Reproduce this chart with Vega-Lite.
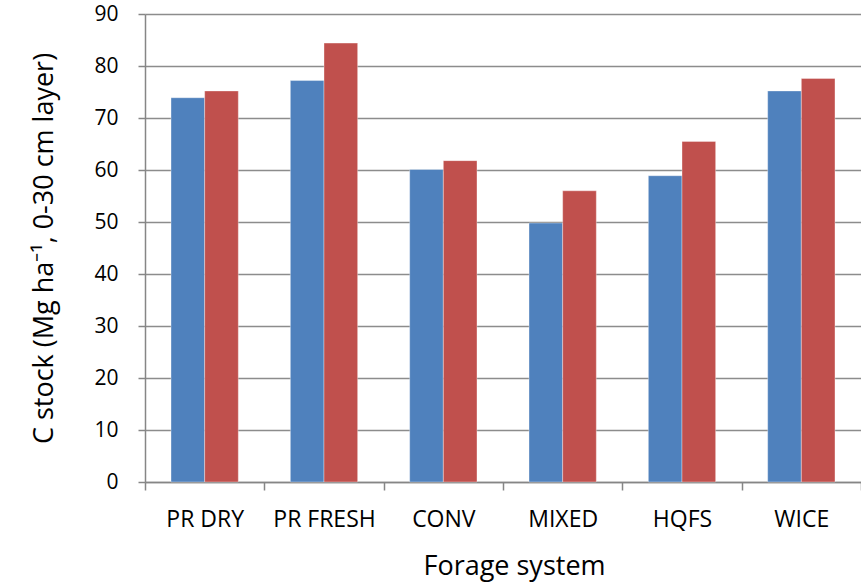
{
  "$schema": "https://vega.github.io/schema/vega-lite/v6.json",
  "width": 716,
  "height": 468,
  "autosize": {"type": "none"},
  "padding": {"left": 145, "top": 14, "right": 0, "bottom": 101},
  "background": "white",
  "config": {
    "view": {"stroke": null},
    "font": "Open Sans"
  },
  "data": {
    "values": [
      {"system": "PR DRY", "series": "A", "value": 73.9},
      {"system": "PR DRY", "series": "B", "value": 75.2},
      {"system": "PR FRESH", "series": "A", "value": 77.2},
      {"system": "PR FRESH", "series": "B", "value": 84.4},
      {"system": "CONV", "series": "A", "value": 60.1},
      {"system": "CONV", "series": "B", "value": 61.8},
      {"system": "MIXED", "series": "A", "value": 49.8},
      {"system": "MIXED", "series": "B", "value": 56.0},
      {"system": "HQFS", "series": "A", "value": 58.9},
      {"system": "HQFS", "series": "B", "value": 65.5},
      {"system": "WICE", "series": "A", "value": 75.2},
      {"system": "WICE", "series": "B", "value": 77.6}
    ]
  },
  "mark": {"type": "bar", "stroke": "white", "strokeOpacity": 0.35, "strokeWidth": 1},
  "encoding": {
    "x": {
      "field": "system",
      "type": "nominal",
      "sort": ["PR DRY", "PR FRESH", "CONV", "MIXED", "HQFS", "WICE"],
      "scale": {"paddingInner": 0, "paddingOuter": 0},
      "axis": {
        "title": "Forage system",
        "titleFontSize": 27,
        "titleFontWeight": "normal",
        "titleColor": "#000000",
        "titleX": 369,
        "titleY": 92,
        "titleBaseline": "alphabetic",
        "labelAngle": 0,
        "labelFontSize": 23,
        "labelColor": "#000000",
        "labelPadding": 18,
        "tickBand": "extent",
        "tickSize": 8,
        "tickColor": "#868686",
        "tickWidth": 1.5,
        "domainColor": "#868686",
        "domainWidth": 1.5,
        "grid": false
      }
    },
    "xOffset": {"field": "series", "type": "nominal", "scale": {"paddingInner": 0, "paddingOuter": 0.773}},
    "y": {
      "field": "value",
      "type": "quantitative",
      "scale": {"domain": [0, 90], "nice": false},
      "axis": {
        "title": "C stock (Mg ha⁻¹, 0-30 cm layer)",
        "titleFontSize": 27,
        "titleFontWeight": "normal",
        "titleColor": "#000000",
        "titleX": -93,
        "titleY": 234,
        "titleBaseline": "alphabetic",
        "values": [0, 10, 20, 30, 40, 50, 60, 70, 80, 90],
        "labelFontSize": 21,
        "labelColor": "#000000",
        "labelPadding": 20,
        "tickSize": 7,
        "tickColor": "#868686",
        "tickWidth": 1.5,
        "domainColor": "#868686",
        "domainWidth": 1.5,
        "grid": true,
        "gridColor": "#8c8c8c",
        "gridWidth": 1.5
      }
    },
    "color": {
      "field": "series",
      "type": "nominal",
      "scale": {"domain": ["A", "B"], "range": ["#4F81BD", "#C0504D"]},
      "legend": null
    }
  }
}
